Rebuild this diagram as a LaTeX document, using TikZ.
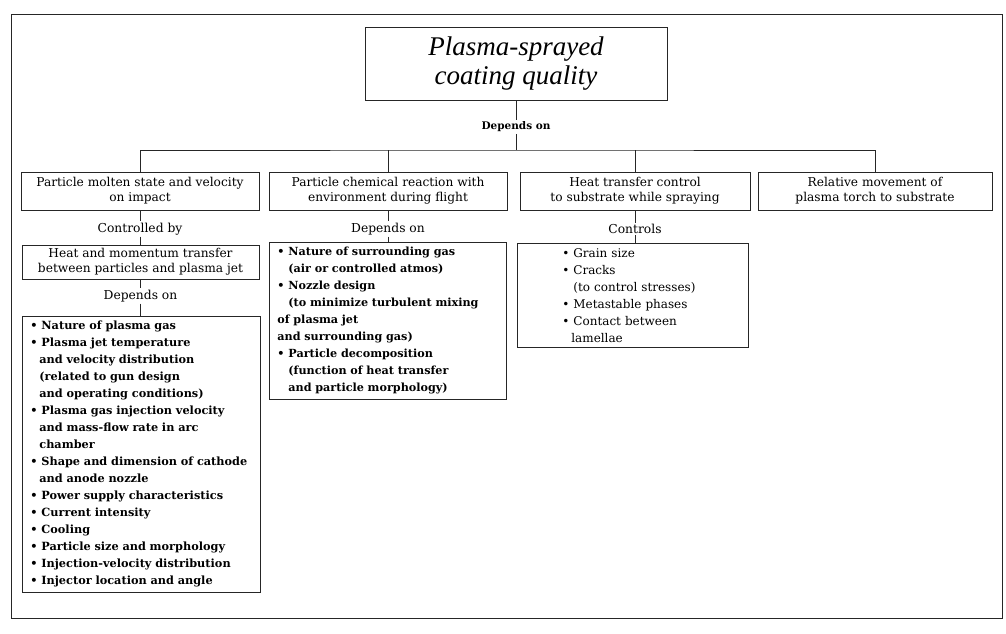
\documentclass[tikz,border=0pt]{standalone}
\usepackage{fontspec}
\setmainfont{DejaVu Serif}
\newfontfamily\titlefont{Liberation Serif}
\usetikzlibrary{positioning}

\newcommand{\bul}{\makebox[11pt][l]{\textbullet}}

\begin{document}
\begin{tikzpicture}[
    x=1pt, y=-1pt,
    box/.style={draw=black!85, line width=0.8pt},
    hdr/.style={box, minimum width=#1, minimum height=38pt, inner sep=2pt, align=center, font=\fontsize{12.2}{15}\selectfont},
    lbl/.style={inner sep=1.5pt, font=\fontsize{12.3}{14}\selectfont},
    lst/.style={box, anchor=north west, align=left, inner xsep=8pt, inner ysep=5pt, text width=#1, font=\bfseries\fontsize{11.3}{17}\selectfont},
    link/.style={draw=black!85, line width=0.8pt}
]
    \useasboundingbox (0,0) rectangle (1006,634);

    % --- outer frame ---
    \draw[box] (11,14) rectangle (1002,618);

    % --- top box ---
    \node[box, minimum width=302pt, minimum height=73pt, align=center, font=\titlefont\itshape\fontsize{27}{29}\selectfont] (top) at (516,63.5) {Plasma-sprayed\\coating quality};
    \node[lbl, font=\bfseries\fontsize{10.5}{12}\selectfont] (dep) at (516,127) {Depends on};
    \coordinate (bar) at (516,150);

    % --- four factors ---
    \node[hdr=238pt] (h1) at (140,191) {Particle molten state and velocity\\on impact};
    \node[hdr=238pt] (h2) at (388,191) {Particle chemical reaction with\\environment during flight};
    \node[hdr=230pt] (h3) at (635,191) {Heat transfer control\\to substrate while spraying};
    \node[hdr=234pt] (h4) at (875,191) {Relative movement of\\plasma torch to substrate};

    \draw[link] (top) -- (dep);
    \draw[link] (dep) -- (bar);
    \draw[link] (h1.north) |- (bar) -| (h4.north);
    \draw[link] (h2.north) -- (h2.north |- bar);
    \draw[link] (h3.north) -- (h3.north |- bar);

    % --- column 1 ---
    \node[lbl] (ctl) at (140,229) {Controlled by};
    \node[hdr=237pt, minimum height=34pt] (heat) at (140.5,262) {Heat and momentum transfer\\between particles and plasma jet};
    \node[lbl] (dep1) at (140.5,296) {Depends on};
    \node[lst=222pt] (gun) at (22,316) {%
        \bul Nature of plasma gas\\
        \bul Plasma jet temperature\\
        \hspace*{9pt}and velocity distribution\\
        \hspace*{9pt}(related to gun design\\
        \hspace*{9pt}and operating conditions)\\
        \bul Plasma gas injection velocity\\
        \hspace*{9pt}and mass-flow rate in arc\\
        \hspace*{9pt}chamber\\
        \bul Shape and dimension of cathode\\
        \hspace*{9pt}and anode nozzle\\
        \bul Power supply characteristics\\
        \bul Current intensity\\
        \bul Cooling\\
        \bul Particle size and morphology\\
        \bul Injection-velocity distribution\\
        \bul Injector location and angle};
    \draw[link] (h1) -- (ctl);
    \draw[link] (ctl) -- (ctl |- heat.north);
    \draw[link] (heat) -- (dep1);
    \draw[link] (dep1) -- (dep1 |- gun.north);

    % --- column 2 ---
    \node[lbl] (dep2) at (388,229) {Depends on};
    \node[lst=221pt, font=\bfseries\fontsize{11.2}{17}\selectfont] (gas) at (269,242) {%
        \bul Nature of surrounding gas\\
        \hspace*{11pt}(air or controlled atmos)\\
        \bul Nozzle design\\
        \hspace*{11pt}(to minimize turbulent mixing\\
        of plasma jet\\
        and surrounding gas)\\
        \bul Particle decomposition\\
        \hspace*{11pt}(function of heat transfer\\
        \hspace*{11pt}and particle morphology)};
    \draw[link] (h2) -- (dep2);
    \draw[link] (dep2) -- (dep2 |- gas.north);

    % --- column 3 ---
    \node[lst=215pt, font=\fontsize{12}{17}\selectfont] (grain) at (517,243) {%
        \hspace*{37pt}\bul Grain size\\
        \hspace*{37pt}\bul Cracks\\
        \hspace*{48pt}(to control stresses)\\
        \hspace*{37pt}\bul Metastable phases\\
        \hspace*{37pt}\bul Contact between\\
        \hspace*{46pt}lamellae};
    \node[lbl] (ctrls) at (635,229) {Controls};
    \draw[link] (h3) -- (ctrls);
    \draw[link] (ctrls) -- (ctrls |- grain.north);

\end{tikzpicture}
\end{document}
